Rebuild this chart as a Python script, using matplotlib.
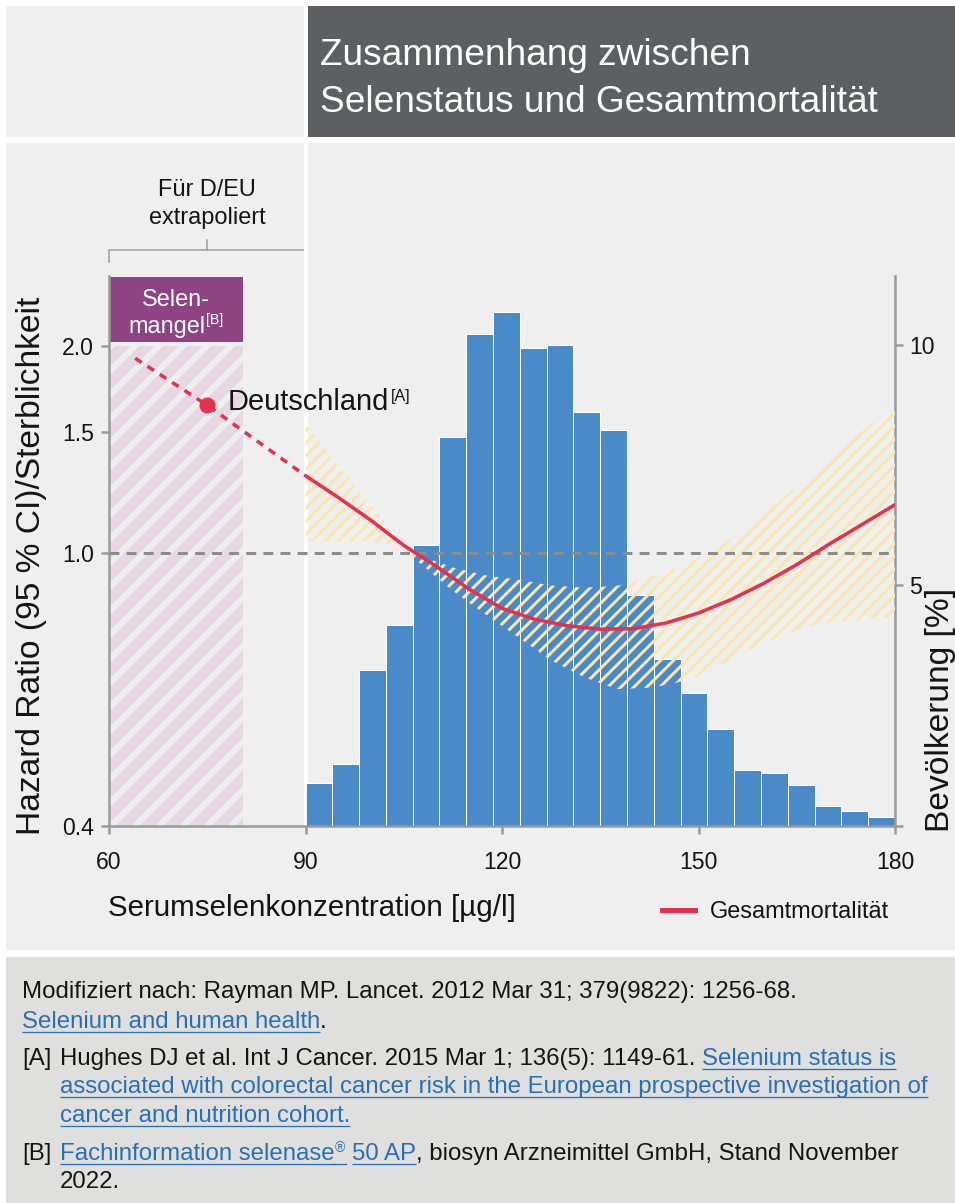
import numpy as np
import matplotlib
matplotlib.use('Agg')
import matplotlib.pyplot as plt
from matplotlib.patches import Rectangle
from matplotlib.lines import Line2D
from matplotlib.collections import LineCollection
from matplotlib.ticker import NullLocator
from matplotlib.transforms import blended_transform_factory

plt.rcParams['font.family'] = ['Liberation Sans', 'DejaVu Sans']

# population share per serum selenium bin (90-180 ug/l, 22 bins), in %
bin_lo, bin_hi = 90, 180
pop_pct = [0.90, 1.29, 3.24, 4.17, 5.85, 8.09, 10.23, 10.68, 9.94, 10.00, 8.61,
           8.22, 4.81, 3.47, 2.76, 2.01, 1.16, 1.10, 0.85, 0.42, 0.31, 0.19]

# hazard ratio of total mortality
hr_x = [90, 95, 100, 105, 110, 115, 120, 125, 130, 135, 140, 145, 150, 155, 160, 165, 170, 175, 180]
hr_y = [1.295, 1.204, 1.115, 1.025, 0.955, 0.885, 0.83, 0.80, 0.783, 0.774, 0.775, 0.79, 0.817,
        0.855, 0.903, 0.961, 1.03, 1.10, 1.175]

# extrapolated part (D/EU) and the Deutschland point
ext_x = [64, 75, 90]
ext_hr = [1.92, 1.64, 1.295]
de_x, de_hr = 75, 1.64

# 95 % CI band
ci_x = [90, 95, 100, 104, 107.5, 112.5, 117.5, 122.5, 127.5, 132.5, 137.5, 142.5, 146, 151, 156, 161, 166, 171, 175, 180]
ci_lo = [1.04, 1.04, 1.04, 1.025, 0.965, 0.88, 0.813, 0.753, 0.697, 0.659, 0.633, 0.636, 0.644, 0.666,
         0.71, 0.745, 0.778, 0.795, 0.80, 0.805]
ci_hi = [1.54, 1.34, 1.17, 1.05, 0.99, 0.952, 0.927, 0.914, 0.896, 0.89, 0.895, 0.92, 0.946, 0.99,
         1.065, 1.16, 1.27, 1.40, 1.505, 1.64]

# selenium deficiency range
def_lo, def_hi = 60, 80.4

hr_ticks = [0.4, 1.0, 1.5, 2.0]
x_ticks = [60, 90, 120, 150, 180]
pct_ticks = [0, 5, 10]

RED = '#e6304f'
BLUE = '#4a8ac8'
GRAY = '#9a9a9a'
PANEL = '#efefef'
YELLOW = '#fbe6ae'
LINK = '#2a6fb4'
TXT = '#141414'

W, H = 955, 1203
fig = plt.figure(figsize=(W / 72, H / 72), dpi=72)
fig.patch.set_facecolor('white')

# background axes in pixel units
bg = fig.add_axes([0, 0, 1, 1], zorder=0)
bg.set_xlim(0, W)
bg.set_ylim(H, 0)
bg.axis('off')
bg.add_patch(Rectangle((6, 6), W - 6, 131, color=PANEL, lw=0))
bg.add_patch(Rectangle((305, 6), W - 305, 131, color='#5e5f63', lw=0))
bg.add_patch(Rectangle((6, 143), W - 6, 807, color=PANEL, lw=0))
bg.add_patch(Rectangle((6, 957), W - 6, H - 957, color='#dfe0de', lw=0))

bg.text(320, 65, 'Zusammenhang zwischen', fontsize=37, color='white', va='baseline')
bg.text(320, 112, 'Selenstatus und Gesamtmortalität', fontsize=37, color='white', va='baseline')

# main axes
ax_l, ax_t, ax_w, ax_h = 109, 276, 786, 550
ax = fig.add_axes([ax_l / W, 1 - (ax_t + ax_h) / H, ax_w / W, ax_h / H])
ax2 = ax.twinx()
ax.set_zorder(2)
ax2.set_zorder(1)
ax.patch.set_visible(False)
ax2.patch.set_visible(False)

ax.set_xlim(60, 180)
ax.set_yscale('log')
ax.set_ylim(0.4, 2.53)
ax2.set_ylim(0, 11.43)

# histogram
edges = np.linspace(bin_lo, bin_hi, len(pop_pct) + 1)
ax2.bar(edges[:-1], pop_pct, width=np.diff(edges), align='edge', color=BLUE,
        edgecolor='white', linewidth=1)


def stripes(period, lw, color, zorder):
    segs = [[(u / ax_w, 0), ((u + ax_h) / ax_w, 1)] for u in np.arange(-ax_h, ax_w, period)]
    lc = LineCollection(segs, colors=color, linewidths=lw, transform=ax.transAxes,
                        zorder=zorder, capstyle='butt')
    ax.add_collection(lc, autolim=False)
    return lc


# deficiency area with stripes
pink = Rectangle((def_lo, hr_ticks[0]), def_hi - def_lo, 2.0 - hr_ticks[0],
                 facecolor='#e7d6e4', lw=0, zorder=1)
ax.add_patch(pink)
stripes(24, 6, PANEL, 1.1).set_clip_path(pink)
ax.add_patch(Rectangle((def_lo, 2.025), def_hi - def_lo, 2.52 - 2.025, facecolor='#8e4482',
                       lw=0, clip_on=False, zorder=1))

# CI band (hatched)
band = ax.fill_between(ci_x, ci_lo, ci_hi, facecolor='none', linewidth=0, zorder=2)
stripes(13, 3, YELLOW, 2).set_clip_path(band.get_paths()[0], ax.transData)

ax.axhline(1.0, color='#8c8c8c', lw=3, ls=(0, (3.3, 2.4)), zorder=3)

ax.plot(ext_x, ext_hr, color=RED, lw=3.5, ls=(0, (2.2, 2.0)), zorder=4)
ax.plot(hr_x, hr_y, color=RED, lw=3.5, zorder=4, solid_capstyle='round')
ax.plot(de_x, de_hr, 'o', color=RED, ms=15, zorder=5)

# axes styling
for s in ['top', 'right']:
    ax.spines[s].set_visible(False)
for s in ['top', 'left', 'bottom']:
    ax2.spines[s].set_visible(False)
for sp in [ax.spines['left'], ax.spines['bottom'], ax2.spines['right']]:
    sp.set_color(GRAY)
    sp.set_linewidth(2.5)

ax.set_yticks(hr_ticks)
ax.set_yticklabels(['%.1f' % v for v in hr_ticks])
ax.yaxis.set_minor_locator(NullLocator())
ax.set_xticks(x_ticks)
ax.set_xticklabels([str(v) for v in x_ticks])
ax.tick_params(axis='y', length=8, width=2.5, color=GRAY, labelsize=23, pad=7, labelcolor=TXT)
ax.tick_params(axis='x', length=8, width=2.5, color=GRAY, labelsize=23, pad=17, labelcolor=TXT)
ax2.set_yticks(pct_ticks)
ax2.set_yticklabels(['', '5', '10'])
ax2.tick_params(axis='y', length=8, width=2.5, color=GRAY, labelsize=23, pad=6, labelcolor=TXT)

ax.set_ylabel('Hazard Ratio (95 % CI)/Sterblichkeit', fontsize=33.5, color=TXT, va='center')
ax.yaxis.set_label_coords((32 - ax_l) / ax_w, (ax_t + ax_h - 566) / ax_h)
ax2.set_ylabel('Bevölkerung [%]', fontsize=33.5, color=TXT, va='center')
ax2.yaxis.set_label_coords((940 - ax_l) / ax_w, (ax_t + ax_h - 710) / ax_h)
ax.set_xlabel('Serumselenkonzentration [µg/l]', fontsize=29.5, color=TXT, ha='left', va='center')
ax.xaxis.set_label_coords((108 - ax_l) / ax_w, (ax_t + ax_h - 908) / ax_h)

ax.legend(handles=[Line2D([], [], color=RED, lw=5, label='Gesamtmortalität')],
          loc='center left', bbox_to_anchor=(662 / W, 1 - 912 / H), bbox_transform=fig.transFigure,
          frameon=False, fontsize=23.5, handlelength=1.4, handletextpad=0.62,
          borderpad=0, borderaxespad=0, labelcolor=TXT)

# separator and bracket (x in data, y in pixels)
mix = blended_transform_factory(ax.transData, bg.transData)
bg.plot([90, 90], [6, ax_t + ax_h], transform=mix, color='white', lw=4, zorder=3)
bg.plot([60, 60, 90, 90], [262, 250, 250, 262], transform=mix, color=GRAY, lw=1.5)
bg.plot([75, 75], [240, 250], transform=mix, color=GRAY, lw=1.5)
bg.text(75, 196, 'Für D/EU', transform=mix, fontsize=23.5, ha='center', va='baseline', color=TXT)
bg.text(75, 224, 'extrapoliert', transform=mix, fontsize=23.5, ha='center', va='baseline', color=TXT)

R = fig.canvas.get_renderer()


def piece(x, y, s, size=24, color=TXT, link=False, rise=0, host=bg):
    t = host.text(x, y - rise, s, fontsize=size, color=color, va='baseline', ha='left',
                  transform=bg.transData, zorder=6, clip_on=False)
    w = t.get_window_extent(R).width
    if link:
        bg.plot([x, x + w], [y + 3.5, y + 3.5], color=color, lw=1.3, solid_capstyle='butt')
    return x + w


def width(s, size):
    t = bg.text(0, 0, s, fontsize=size)
    w = t.get_window_extent(R).width
    t.remove()
    return w


# purple box text
cx = ax.transData.transform(((def_lo + def_hi) / 2, 1.0))[0]
ax.text(cx, 306, 'Selen-', fontsize=23.5, color='white', ha='center', va='baseline',
        transform=bg.transData, zorder=6, clip_on=False)
wtot = width('mangel', 23.5) + width('[B]', 14) + 1
xx = piece(cx - wtot / 2, 333, 'mangel', size=23.5, color='white', host=ax)
piece(xx + 1, 333, '[B]', size=14, color='white', rise=9, host=ax)

# Deutschland label
xx = piece(228, 410, 'Deutschland', size=29, host=ax)
piece(xx + 1, 410, '[A]', size=16, rise=9, host=ax)

# footer
sp = 0.278 * 24
piece(22, 998, 'Modifiziert nach: Rayman MP. Lancet. 2012 Mar 31; 379(9822): 1256-68.')
xx = piece(22, 1028, 'Selenium and human health', color=LINK, link=True)
piece(xx, 1028, '.')
piece(22, 1065, '[A]')
xx = piece(60, 1065, 'Hughes DJ et al. Int J Cancer. 2015 Mar 1; 136(5): 1149-61.')
piece(xx + sp, 1065, 'Selenium status is', color=LINK, link=True)
piece(60, 1093, 'associated with colorectal cancer risk in the European prospective investigation of',
      color=LINK, link=True)
piece(60, 1122, 'cancer and nutrition cohort.', color=LINK, link=True)
piece(22, 1160, '[B]')
xx = piece(60, 1160, 'Fachinformation selenase', color=LINK, link=True)
xx = piece(xx, 1160, '®', size=14, color=LINK, rise=8)
bg.plot([xx - 12, xx + 1], [1163.5, 1163.5], color=LINK, lw=1.3)
xx = piece(xx + sp, 1160, '50 AP', color=LINK, link=True)
piece(xx, 1160, ', biosyn Arzneimittel GmbH, Stand November')
piece(60, 1188, '2022.')

fig.savefig('out.png', dpi=72, facecolor='white')
